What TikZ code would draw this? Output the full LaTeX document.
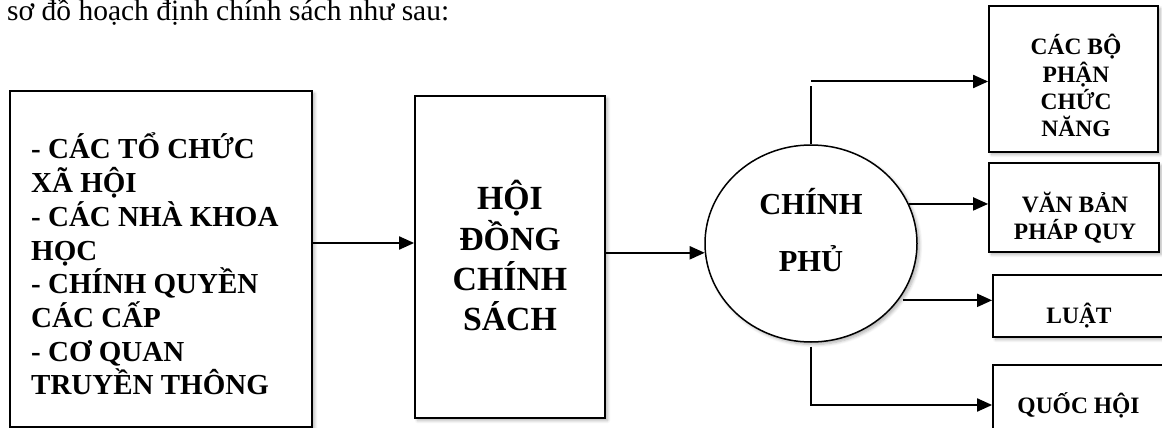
\documentclass[tikz,border=0pt]{standalone}
\usepackage{fontspec}
\setmainfont{Liberation Serif}
\usetikzlibrary{arrows.meta,shapes.geometric,shadows.blur}

\begin{document}
\begin{tikzpicture}[x=1pt,y=-1pt,
  softshadow/.style={blur shadow={shadow xshift=2.5pt, shadow yshift=-2.5pt,
      shadow blur radius=3pt, shadow blur steps=6, shadow opacity=30}},
  frame/.style={draw=black, line width=1.8pt, fill=white, inner sep=0pt, softshadow},
  blob/.style={ellipse, draw=black, line width=1.5pt, fill=white, inner sep=0pt, softshadow},
  caption/.style={inner sep=0pt, align=center, text depth=0pt},
  link/.style={line width=2pt, -{Triangle[length=15pt,width=13pt]}},
  plain/.style={line width=2pt}]

\useasboundingbox (0,0) rectangle (1162,428);

% introductory sentence
\node[anchor=base west, inner sep=0pt, font=\fontsize{29.5}{34}\selectfont]
  (intro) at (7,21) {sơ đồ hoạch định chính sách như sau:};

% boxes and the central ellipse
\node[frame, minimum width=302pt, minimum height=336pt] (src) at (161,259) {};
\node[frame, minimum width=190pt, minimum height=322pt] (hd)  at (510,257) {};
\node[blob,  minimum width=212pt, minimum height=197pt] (gov) at (811,243.5) {};
\node[frame, minimum width=169pt, minimum height=146pt] (b1) at (1073.5,79) {};
\node[frame, minimum width=170pt, minimum height=89pt]  (b2) at (1074,207.5) {};
\node[frame, minimum width=173pt, minimum height=62pt]  (b3) at (1079.5,306) {};
\node[frame, minimum width=173pt, minimum height=85pt]  (b4) at (1079.5,407.5) {};

% texts
\node[caption, align=left, anchor=south west, font=\bfseries\fontsize{29}{33.7}\selectfont]
  (srctext) at (31,395) {- CÁC TỔ CHỨC\\XÃ HỘI\\- CÁC NHÀ KHOA\\HỌC\\- CHÍNH QUYỀN\\CÁC CẤP\\- CƠ QUAN\\TRUYỀN THÔNG};
\node[caption, anchor=south, font=\bfseries\fontsize{33.8}{40.3}\selectfont]
  (hdtext) at (510,331) {HỘI\\ĐỒNG\\CHÍNH\\SÁCH};
\node[caption, anchor=south, font=\bfseries\fontsize{30.5}{57}\selectfont]
  (govtext) at (811,272) {CHÍNH\\PHỦ};
\node[caption, anchor=south, font=\bfseries\fontsize{23.5}{27.4}\selectfont]
  (b1text) at (1076,137) {CÁC BỘ\\PHẬN\\CHỨC\\NĂNG};
\node[caption, anchor=south, font=\bfseries\fontsize{23.5}{27.5}\selectfont]
  (b2text) at (1075,240) {VĂN BẢN\\PHÁP QUY};
\node[caption, anchor=south, font=\bfseries\fontsize{23.5}{27}\selectfont]
  (b3text) at (1079,324) {LUẬT};
\node[caption, anchor=south, font=\bfseries\fontsize{23.5}{27}\selectfont]
  (b4text) at (1078.5,414) {QUỐC HỘI};

% helper levels for the connectors
\coordinate (y1) at (0,243);
\coordinate (v1) at (0,86);
\coordinate (h1) at (0,81.5);
\coordinate (v2) at (0,346.5);
\coordinate (h2) at (0,405);

% connectors
\draw[link] (src.east |- y1) -- (hd.west |- y1);
\draw[link] (hd.east |- gov.185) -- (gov.185);
\draw[plain] (gov.north) -- (gov.north |- v1);
\draw[link] (gov.north |- h1) -- (b1.west |- h1);
\draw[link] (gov.22) -- (b2.west |- gov.22);
\draw[link] ([xshift=4pt]gov.-33) -- (b3.west |- gov.-33);
\draw[link] (gov.south |- v2) -- (gov.south |- h2) -- (b4.west |- h2);
\end{tikzpicture}
\end{document}
